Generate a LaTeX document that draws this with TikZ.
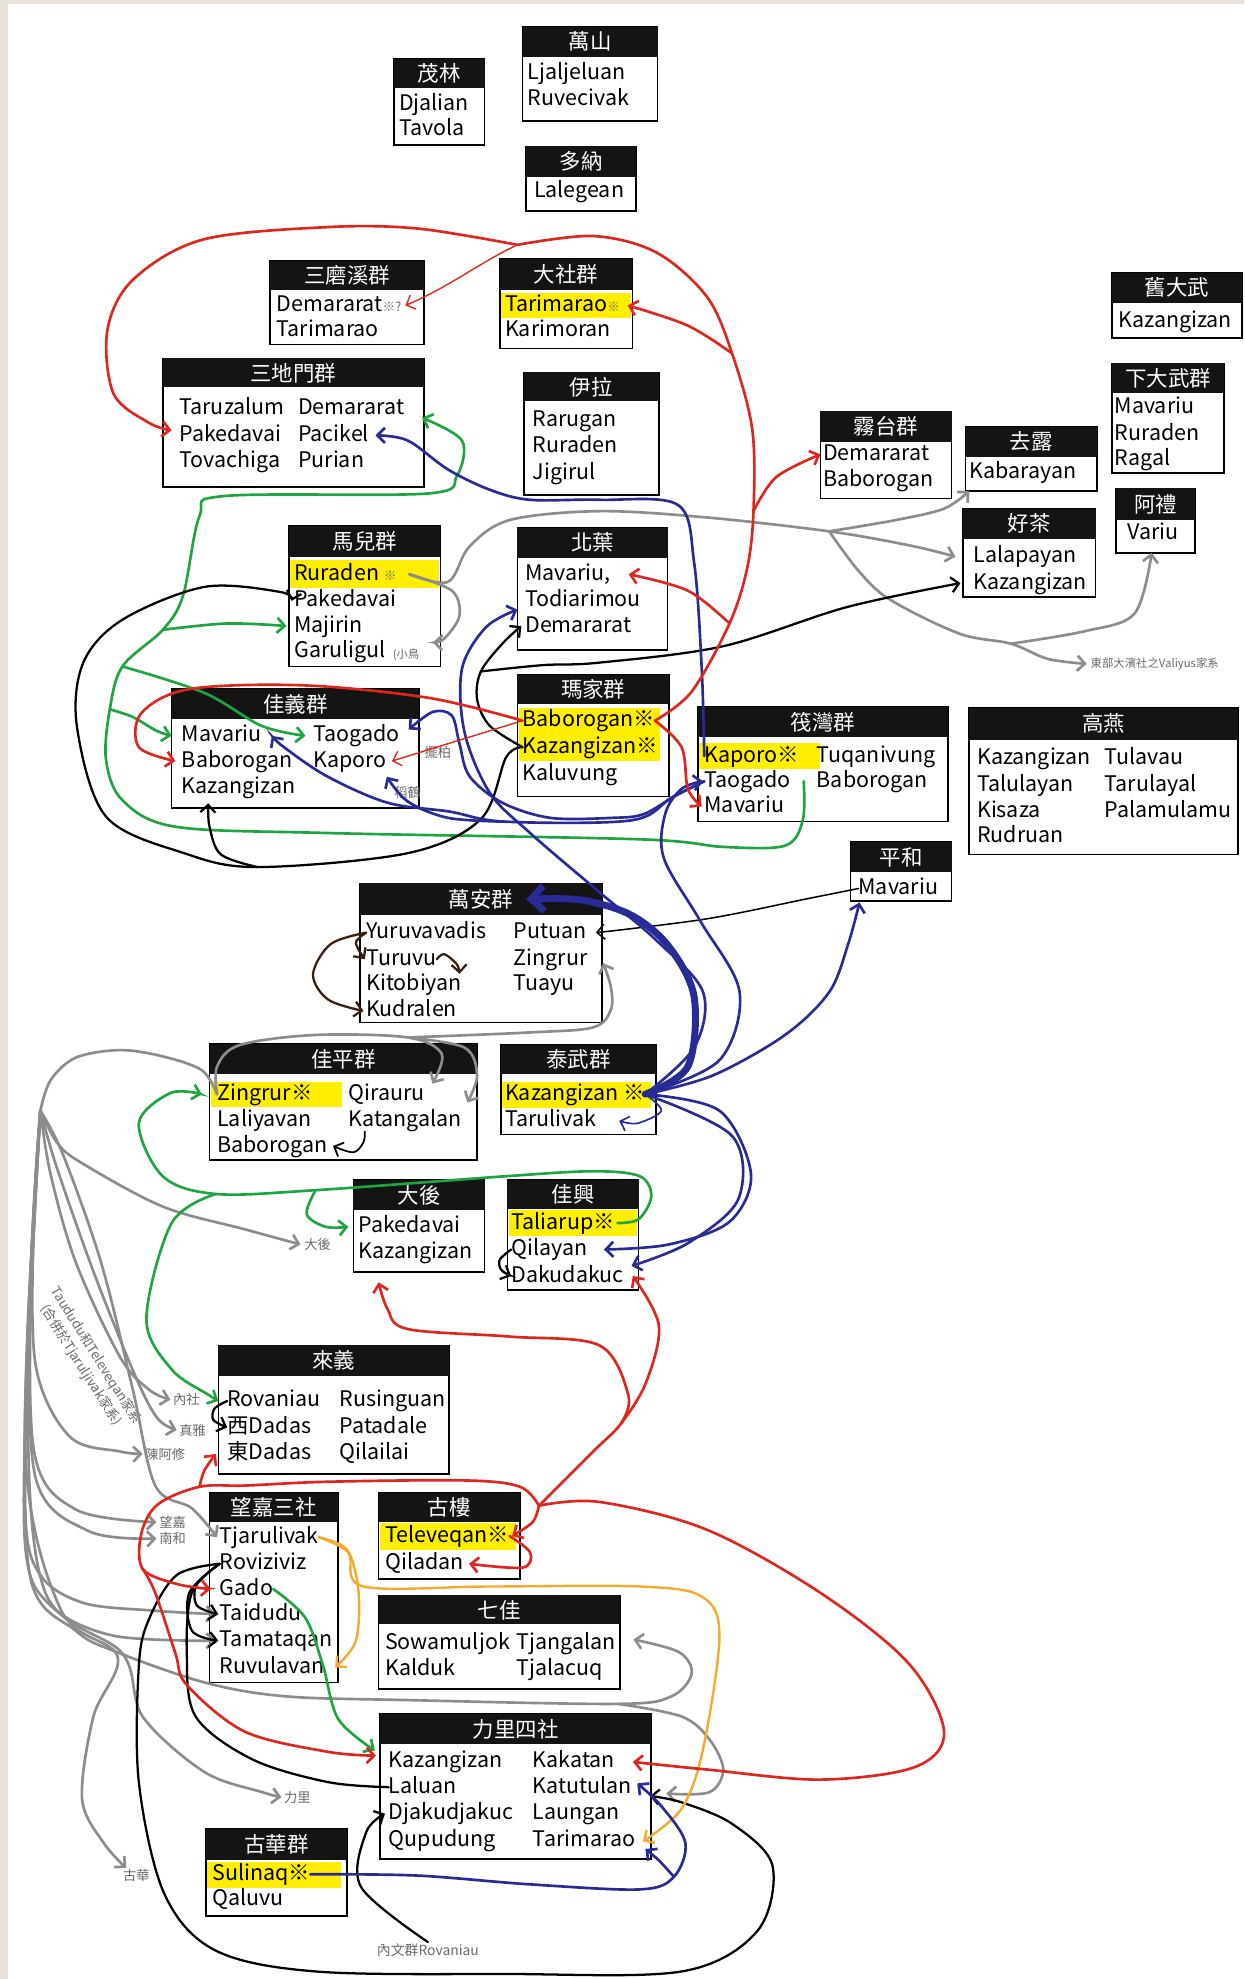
\documentclass[tikz,border=0pt]{standalone}
\usepackage{fontspec}
\setmainfont{Noto Sans CJK TC}
\usetikzlibrary{arrows.meta}

\definecolor{lnred}{RGB}{222,38,30}
\definecolor{lnblue}{RGB}{40,42,150}
\definecolor{lngreen}{RGB}{30,165,65}
\definecolor{lngrey}{RGB}{140,140,140}
\definecolor{lnorange}{RGB}{246,170,45}
\definecolor{lnbrown}{RGB}{55,30,15}
\definecolor{hlyellow}{RGB}{255,238,0}
\definecolor{paper}{RGB}{232,226,218}
\definecolor{labgrey}{RGB}{105,105,105}

% group box: name, left, top, right, header bottom, bottom, title
\newcommand{\tribe}[7]{%
  \node[grpbox, minimum width={#4-#2}, minimum height={#6-#3}] (#1) at (#2,#3) {};
  \node[grphead, minimum width={#4-#2}, minimum height={#5-#3}] (#1-h) at (#2,#3) {#7};
}
\newcommand{\smallmark}[1]{{\fontsize{10}{10}\selectfont\color{labgrey}#1}}

\begin{document}
\begin{tikzpicture}[x=1pt, y=-1pt,
    grpbox/.style={draw, fill=white, line width=1.3pt, anchor=north west, inner sep=0pt, outer sep=0pt},
    grphead/.style={fill=black!92, text=white, anchor=north west, inner sep=0pt, outer sep=0pt, font=\fontsize{17}{17}\selectfont},
    row/.style={anchor=west, inner sep=0pt, text height=13pt, text depth=3.5pt, font=\fontsize{17}{17}\selectfont},
    lab/.style={text=labgrey, inner sep=1pt, font=\fontsize{10.5}{12}\selectfont},
    hl/.style={fill=hlyellow},
    freehand/.style={smooth, tension=0.55},
    arr/.style={-{Straight Barb[length=6pt,width=12pt]}},
    lred/.style={draw=lnred, line width=2.1pt, line cap=round},
    lblue/.style={draw=lnblue, line width=2.1pt, line cap=round},
    lgreen/.style={draw=lngreen, line width=2.1pt, line cap=round},
    lblack/.style={draw=black, line width=1.8pt, line cap=round},
    lgrey/.style={draw=lngrey, line width=2.1pt, line cap=round},
    lorange/.style={draw=lnorange, line width=1.9pt, line cap=round},
    lbrown/.style={draw=lnbrown, line width=1.8pt, line cap=round}]

\useasboundingbox (0,0) rectangle (986,1568);
\fill[paper] (0,0) rectangle (986,1568);
\fill[white] (6,3) rectangle (986,1568);

% boxes
\tribe{ml}{312}{47}{384}{70}{115}{茂林}
\tribe{ws}{414}{21}{521}{45}{96}{萬山}
\tribe{dn}{417}{116}{504}{140}{167}{多納}
\tribe{smx}{214}{207}{336}{230}{273}{三磨溪群}
\tribe{ds}{396}{205}{501}{230}{276}{大社群}
\tribe{jdw}{881}{216}{984}{240}{268}{舊大武}
\tribe{sdm}{129}{284}{336}{307}{386}{三地門群}
\tribe{yl}{415}{295}{522}{318}{392}{伊拉}
\tribe{wt}{650}{326}{754}{350}{395}{霧台群}
\tribe{ql}{765}{338}{869}{362}{389}{去露}
\tribe{xdw}{881}{288}{970}{311}{375}{下大武群}
\tribe{al}{884}{387}{947}{412}{438}{阿禮}
\tribe{hc}{763}{403}{868}{427}{473}{好茶}
\tribe{me}{229}{417}{349}{441}{528}{馬兒群}
\tribe{by}{410}{418}{529}{442}{515}{北葉}
\tribe{jy}{136}{546}{332}{570}{640}{佳義群}
\tribe{mj}{410}{535}{530}{558}{631}{瑪家群}
\tribe{fw}{553}{560}{751}{584}{651}{筏灣群}
\tribe{gy}{768}{561}{981}{586}{677}{高燕}
\tribe{ph}{674}{667}{754}{691}{714}{平和}
\tribe{wa}{285}{700}{477}{725}{810}{萬安群}
\tribe{jp}{166}{827}{378}{851}{919}{佳平群}
\tribe{tw}{397}{828}{520}{851}{899}{泰武群}
\tribe{dh}{280}{935}{384}{959}{1008}{大後}
\tribe{jx}{402}{935}{506}{958}{1022}{佳興}
\tribe{ly}{173}{1066}{356}{1090}{1168}{來義}
\tribe{wj}{166}{1183}{268}{1206}{1333}{望嘉三社}
\tribe{gl}{300}{1183}{412}{1206}{1251}{古樓}
\tribe{qj}{300}{1264}{491}{1287}{1338}{七佳}
\tribe{ll}{301}{1358}{516}{1382}{1473}{力里四社}
\tribe{gh}{163}{1449}{275}{1474}{1518}{古華群}

% highlighted rows
\fill[hl] (397,232) rectangle (500,252);
\fill[hl] (230,444) rectangle (348,466);
\fill[hl] (411,561) rectangle (523,603);
\fill[hl] (554,589) rectangle (650,609);
\fill[hl] (167,857) rectangle (271,877);
\fill[hl] (398,857) rectangle (516,878);
\fill[hl] (403,959) rectangle (505,979);
\fill[hl] (301,1207) rectangle (409,1228);
\fill[hl] (164,1475) rectangle (270,1496);

% rows
\node[row] (ml-dja) at (316,83) {Djalian};
\node[row] (ml-tav) at (316,103) {Tavola};
\node[row] (ws-lja) at (418,58) {Ljaljeluan};
\node[row] (ws-ruv) at (418,79) {Ruvecivak};
\node[row] (dn-lal) at (423,152) {Lalegean};
\node[row] (smx-dem) at (219,242) {Demararat\smallmark{※?}};
\node[row] (smx-tar) at (219,262) {Tarimarao};
\node[row] (ds-tar) at (400,242) {Tarimarao\smallmark{※}};
\node[row] (ds-kar) at (400,262) {Karimoran};
\node[row] (jdw-kaz) at (886,255) {Kazangizan};
\node[row] (sdm-tar) at (142,324) {Taruzalum};
\node[row] (sdm-pak) at (142,345) {Pakedavai};
\node[row] (sdm-tov) at (142,366) {Tovachiga};
\node[row] (sdm-dem) at (236,324) {Demararat};
\node[row] (sdm-pac) at (236,345) {Pacikel};
\node[row] (sdm-pur) at (236,366) {Purian};
\node[row] (yl-rar) at (422,333) {Rarugan};
\node[row] (yl-rur) at (422,354) {Ruraden};
\node[row] (yl-jig) at (422,375) {Jigirul};
\node[row] (wt-dem) at (652,360) {Demararat};
\node[row] (wt-bab) at (652,381) {Baborogan};
\node[row] (ql-kab) at (768,374) {Kabarayan};
\node[row] (xdw-mav) at (883,323) {Mavariu};
\node[row] (xdw-rur) at (883,344) {Ruraden};
\node[row] (xdw-rag) at (883,364) {Ragal};
\node[row] (al-var) at (893,423) {Variu};
\node[row] (hc-lal) at (771,441) {Lalapayan};
\node[row] (hc-kaz) at (771,462) {Kazangizan};
\node[row] (me-rur) at (233,455) {Ruraden \smallmark{※}};
\node[row] (me-pak) at (233,476) {Pakedavai};
\node[row] (me-maj) at (233,496) {Majirin};
\node[row] (me-gar) at (233,516) {Garuligul};
\node[row] (by-mav) at (416,455) {Mavariu,};
\node[row] (by-tod) at (416,476) {Todiarimou};
\node[row] (by-dem) at (416,496) {Demararat};
\node[row] (jy-mav) at (144,583) {Mavariu};
\node[row] (jy-bab) at (144,603) {Baborogan};
\node[row] (jy-kaz) at (144,624) {Kazangizan};
\node[row] (jy-tao) at (248,583) {Taogado};
\node[row] (jy-kap) at (248,603) {Kaporo};
\node[row] (mj-bab) at (414,571) {Baborogan※};
\node[row] (mj-kaz) at (414,592) {Kazangizan※};
\node[row] (mj-kal) at (414,614) {Kaluvung};
\node[row] (fw-kap) at (558,599) {Kaporo※};
\node[row] (fw-tao) at (558,619) {Taogado};
\node[row] (fw-mav) at (558,639) {Mavariu};
\node[row] (fw-tuq) at (647,599) {Tuqanivung};
\node[row] (fw-bab) at (647,619) {Baborogan};
\node[row] (gy-kaz) at (774,601) {Kazangizan};
\node[row] (gy-tll) at (774,622) {Talulayan};
\node[row] (gy-kis) at (774,643) {Kisaza};
\node[row] (gy-rud) at (774,663) {Rudruan};
\node[row] (gy-tlv) at (875,601) {Tulavau};
\node[row] (gy-try) at (875,622) {Tarulayal};
\node[row] (gy-pal) at (875,643) {Palamulamu};
\node[row] (ph-mav) at (680,704) {Mavariu};
\node[row] (wa-yur) at (290,739) {Yuruvavadis};
\node[row] (wa-tur) at (290,760) {Turuvu};
\node[row] (wa-kit) at (290,780) {Kitobiyan};
\node[row] (wa-kud) at (290,801) {Kudralen};
\node[row] (wa-put) at (407,739) {Putuan};
\node[row] (wa-zin) at (407,760) {Zingrur};
\node[row] (wa-tua) at (407,780) {Tuayu};
\node[row] (jp-zin) at (172,867) {Zingrur※};
\node[row] (jp-lal) at (172,888) {Laliyavan};
\node[row] (jp-bab) at (172,908) {Baborogan};
\node[row] (jp-qir) at (276,867) {Qirauru};
\node[row] (jp-kat) at (276,888) {Katangalan};
\node[row] (tw-kaz) at (400,867) {Kazangizan ※};
\node[row] (tw-tar) at (400,888) {Tarulivak};
\node[row] (dh-pak) at (284,972) {Pakedavai};
\node[row] (dh-kaz) at (284,992) {Kazangizan};
\node[row] (jx-tal) at (405,969) {Taliarup※};
\node[row] (jx-qil) at (405,990) {Qilayan};
\node[row] (jx-dak) at (405,1011) {Dakudakuc};
\node[row] (ly-rov) at (180,1110) {Rovaniau};
\node[row] (ly-xd) at (180,1131) {西Dadas};
\node[row] (ly-dd) at (180,1152) {東Dadas};
\node[row] (ly-rus) at (269,1110) {Rusinguan};
\node[row] (ly-pat) at (269,1131) {Patadale};
\node[row] (ly-qil) at (269,1152) {Qilailai};
\node[row] (wj-tja) at (174,1218) {Tjarulivak};
\node[row] (wj-rov) at (174,1239) {Roviziviz};
\node[row] (wj-gad) at (174,1259) {Gado};
\node[row] (wj-tai) at (174,1279) {Taidudu};
\node[row] (wj-tam) at (174,1300) {Tamataqan};
\node[row] (wj-ruv) at (174,1321) {Ruvulavan};
\node[row] (gl-tel) at (305,1217) {Televeqan※};
\node[row] (gl-qil) at (305,1239) {Qiladan};
\node[row] (qj-sow) at (305,1302) {Sowamuljok};
\node[row] (qj-kal) at (305,1323) {Kalduk};
\node[row] (qj-tja) at (409,1302) {Tjangalan};
\node[row] (qj-tjl) at (409,1323) {Tjalacuq};
\node[row] (ll-kaz) at (308,1396) {Kazangizan};
\node[row] (ll-lal) at (308,1416) {Laluan};
\node[row] (ll-dja) at (308,1437) {Djakudjakuc};
\node[row] (ll-qup) at (308,1458) {Qupudung};
\node[row] (ll-kak) at (422,1396) {Kakatan};
\node[row] (ll-kat) at (422,1416) {Katutulan};
\node[row] (ll-lau) at (422,1437) {Laungan};
\node[row] (ll-tar) at (422,1458) {Tarimarao};
\node[row] (gh-sul) at (168,1485) {Sulinaq※};
\node[row] (gh-qal) at (168,1505) {Qaluvu};

% small labels
\node[lab, anchor=west, font=\fontsize{9}{10}\selectfont] (lb-valiyus) at (863,526) {東部大濱社之Valiyus家系};
\node[lab, anchor=west, font=\fontsize{9}{10}\selectfont] (lb-bird) at (310,519) {(小鳥};
\node[lab] (lb-baibai) at (347,596) {擺柏};
\node[lab] (lb-daohe) at (323,628) {稻鶴};
\node[lab, anchor=west] (lb-dahou) at (240,986) {大後};
\node[lab, rotate=-58, align=center, font=\fontsize{10.5}{14}\selectfont] (lb-taududu) at (70,1078) {Taududu和Televeqan家系\\(合併於Tjaruljivak家系)};
\node[lab, anchor=west] (lb-neishe) at (136,1109) {內社};
\node[lab, anchor=west] (lb-zhenya) at (141,1133) {真雅};
\node[lab, anchor=west] (lb-chen) at (114,1152) {陳阿修};
\node[lab, anchor=west] (lb-wangjia) at (125,1206) {望嘉};
\node[lab, anchor=west] (lb-nanhe) at (125,1219) {南和};
\node[lab, anchor=west] (lb-lili) at (224,1424) {力里};
\node[lab] (lb-guhua) at (108,1486) {古華};
\node[lab, font=\fontsize{11}{12}\selectfont] (lb-neiwen) at (339,1545) {內文群Rovaniau};

% branch points
\coordinate (rtop) at (410,194);
\coordinate (rj1) at (580,280);
\coordinate (rj2) at (597,405);
\coordinate (rj3) at (578,494);
\coordinate (rj) at (427,1193);
\coordinate (rmid) at (492,1128);
\coordinate (rleft) at (158,1178);
\coordinate (rdown) at (113,1243);
\coordinate (kjoin) at (381,532);
\coordinate (kjy) at (204,687);
\coordinate (gj2) at (657,421);
\coordinate (gj3) at (801,510);
\coordinate (tr) at (32,880);
\coordinate (gtop) at (323,822);
\coordinate (gt1) at (97,528);
\coordinate (gt2) at (87,562);
\coordinate (gt3) at (129,499);
\coordinate (gjp1) at (250,943);
\coordinate (gjp2) at (171,946);
\coordinate (qj1) at (490,1350);
\coordinate (bsul) at (534,1487);
\coordinate (bjy) at (400,651);

% grey
\draw[lgrey, arr] plot[freehand] coordinates {([xshift=10pt]me-rur.east) (355,461) (372,433) (404,412) (475,405) (560,410) (gj2) (720,432) ([xshift=-14pt]hc-lal.west)};
\draw[lgrey, arr] plot[freehand] coordinates {(gj2) (710,412) (748,403) ([xshift=3pt]ql.south west)};
\draw[lgrey, arr] plot[freehand] coordinates {(gj2) (680,452) (705,475) (760,502) (gj3) (830,522) ([xshift=-2pt]lb-valiyus.west)};
\draw[lgrey, arr] plot[freehand] coordinates {(gj3) (860,500) (899,486) ([xshift=-3pt]al.south)};
\draw[lgrey, arr] plot[freehand] coordinates {([xshift=10pt]me-rur.east) (358,468) (364,488) (352,506) ([xshift=-6pt,yshift=19pt]me.south east)};
\draw[lgrey] plot[freehand] coordinates {(jp-zin.west) (160,848) (129,837) (95,832) (60,838) (40,856) (tr)};
\draw[lgrey, arr] plot[freehand] coordinates {(jp-zin.west) (172,845) (190,828) (250,820) (gtop) (350,835) ([xshift=6pt]jp-qir.north east)};
\draw[lgrey, arr] plot[freehand] coordinates {(gtop) (368,830) (378,852) ([xshift=4pt,yshift=6pt]jp-kat.north east)};
\draw[lgrey, arr] plot[freehand] coordinates {(gtop) (420,818) (470,814) (484,800) (484,782) ([xshift=12pt,yshift=-3pt]wa-zin.east)};
\draw[lgrey, arr] plot[freehand] coordinates {(tr) (45,905) (64,921) (129,956) (194,974) ([xshift=-2pt]lb-dahou.west)};
\draw[lgrey, arr] plot[freehand] coordinates {(tr) (40,930) (60,1000) (95,1075) (118,1101) ([xshift=-1pt]lb-neishe.west)};
\draw[lgrey, arr] plot[freehand] coordinates {(tr) (45,925) (75,1010) (108,1092) (125,1124) ([xshift=-1pt]lb-zhenya.west)};
\draw[lgrey, arr] plot[freehand] coordinates {(tr) (50,915) (80,1000) (105,1100) (123,1177) (152,1195) ([xshift=-2pt]wj-tja.west)};
\draw[lgrey, arr] plot[freehand] coordinates {(tr) (27,960) (28,1080) (55,1138) (95,1150) ([xshift=-1pt]lb-chen.west)};
\draw[lgrey, arr] plot[freehand] coordinates {(tr) (25,1000) (27,1150) (60,1196) ([xshift=-1pt]lb-wangjia.west)};
\draw[lgrey, arr] plot[freehand] coordinates {(tr) (24,1020) (28,1170) (70,1213) ([xshift=-1pt]lb-nanhe.west)};
\draw[lgrey, arr] plot[freehand] coordinates {(tr) (22,1050) (20,1200) (32,1248) (66,1270) (120,1276) ([xshift=-3pt]wj-tai.west)};
\draw[lgrey, arr] plot[freehand] coordinates {(tr) (22,1070) (20,1225) (40,1272) (90,1296) ([xshift=-3pt]wj-tam.west)};
\draw[lgrey, arr] plot[freehand] coordinates {(tr) (21,1100) (24,1250) (60,1292) (90,1308) (162,1333) (226,1344) (323,1347) (qj1) (532,1344) (548,1326) (538,1309) ([xshift=14pt,yshift=3pt]qj-tja.east)};
\draw[lgrey, arr] plot[freehand] coordinates {(qj1) (540,1360) (562,1378) (573,1402) (562,1420) ([xshift=27pt,yshift=-5pt]ll-kat.east)};
\draw[lgrey, arr] plot[freehand] coordinates {(tr) (22,1120) (36,1262) (97,1310) (113,1360) (162,1404) (208,1420) ([xshift=-1pt]lb-lili.west)};
\draw[lgrey, arr] plot[freehand] coordinates {(tr) (20,1150) (48,1275) (93,1312) (74,1360) (65,1425) (82,1460) ([xshift=-8pt]lb-guhua.north)};

% green
\draw[lgreen, arr] plot[freehand] coordinates {([xshift=10pt]fw-tao.east) (636,650) (622,670) (573,671) (507,665) (259,660) (139,655) (97,634) (84,602) (gt2) (gt1) (gt3) (145,472) (158,409) (178,393) (339,391) (362,377) (366,349) ([xshift=14pt,yshift=-7pt]sdm-dem.east)};
\draw[lgreen, arr] plot[freehand] coordinates {(gt3) (180,494) ([xshift=-6pt]me-maj.west)};
\draw[lgreen, arr] plot[freehand] coordinates {(gt2) (105,568) (124,579) ([xshift=-8pt]jy-mav.west)};
\draw[lgreen, arr] plot[freehand] coordinates {(gt1) (162,549) (207,575) ([xshift=-6pt]jy-tao.west)};
\draw[lgreen, arr] plot[freehand] coordinates {([xshift=2pt]jx-tal.east) (506,966) (516,948) (507,932) (470,928) (400,932) (gjp1) (gjp2) (129,932) (110,890) (135,866) ([xshift=-12pt]jp-zin.west)};
\draw[lgreen, arr] plot[freehand] coordinates {(gjp1) (243,962) (258,972) ([xshift=-8pt]dh-pak.west)};
\draw[lgreen, arr] plot[freehand] coordinates {(gjp2) (136,969) (116,1045) (136,1085) (165,1105) ([xshift=-7pt]ly-rov.west)};
\draw[lgreen, arr] plot[freehand] coordinates {(wj-gad.east) (242,1282) (256,1320) (268,1362) ([xshift=-11pt,yshift=9pt]ll-kaz.west)};

% black
\draw[lblack, arr] plot[freehand] coordinates {(mj-kaz.west) (401,600) (381,649) (323,676) (kjy) (146,676) (84,647) (61,576) (66,525) (97,491) (162,465) (222,469) ([xshift=-2pt]me-pak.west)};
\draw[lblack, arr] plot[freehand] coordinates {(kjy) (175,677) (166,655) ([xshift=21pt,yshift=-4pt]jy-kaz.south west)};
\draw[lblack, arr] plot[freehand] coordinates {(mj-kaz.west) (388,575) (378,554) (kjoin) (398,510) ([xshift=-3pt]by-dem.west)};
\draw[lblack, arr] plot[freehand] coordinates {(kjoin) (430,527) (475,525) (573,512) (671,481) ([xshift=-10pt]hc-kaz.west)};
\draw[lblack, line width=1.2pt, arr] plot[freehand] coordinates {(ph-mav.west) (640,712) (560,728) ([xshift=7pt]wa-put.east)};
\draw[lblack, line width=1.4pt, arr] plot[freehand] coordinates {([xshift=13pt]jp-kat.south west) (288,905) (280,913) ([xshift=4pt]jp-bab.east)};
\draw[lblack, arr] plot[freehand] coordinates {(jx-qil.west) (396,998) (397,1006) (jx-dak.west)};
\draw[lblack, arr] plot[freehand] coordinates {(ly-rov.west) (170,1116) (169,1125) (ly-xd.west)};
\draw[lblack, arr] plot[freehand] coordinates {(wj-rov.west) (140,1248) (118,1283) (110,1320) (110,1412) (130,1500) (170,1545) (250,1562) (400,1564) (540,1562) (600,1530) (612,1478) (580,1445) (540,1428) ([xshift=14pt,yshift=-7pt]ll-kat.east)};
\draw[lblack] plot[freehand] coordinates {(wj-rov.west) (152,1262) (148,1310) (155,1360) (200,1394) (260,1412) (ll-lal.west)};
\draw[lblack, arr] plot[freehand] coordinates {(wj-rov.west) (156,1255) (156,1272) ([xshift=-1pt]wj-tai.west)};
\draw[lblack, arr] plot[freehand] coordinates {(wj-rov.west) (150,1262) (152,1292) ([xshift=-1pt]wj-tam.west)};
\draw[lblack, arr] plot[freehand] coordinates {(lb-neiwen.north) (286,1495) (290,1452) ([xshift=-3pt]ll-dja.west)};

% brown
\draw[lbrown, arr] plot[freehand] coordinates {(wa-yur.west) (282,747) ([xshift=-1pt]wa-tur.west)};
\draw[lbrown, arr] plot[freehand] coordinates {(wa-yur.west) (262,748) (248,772) (260,792) ([xshift=-2pt]wa-kud.west)};
\draw[lbrown, arr] plot[freehand] coordinates {(wa-tur.east) (352,756) (362,764) ([xshift=-2pt]wa-kit.north east)};

% orange
\draw[lorange, arr] plot[freehand] coordinates {(wj-tja.east) (275,1228) (284,1260) (282,1300) ([xshift=8pt]wj-ruv.east)};
\draw[lorange, arr] plot[freehand] coordinates {(wj-tja.east) (276,1230) (288,1257) (388,1257) (507,1257) (556,1265) (570,1296) (557,1386) (540,1433) ([xshift=6pt,yshift=-1pt]ll-tar.east)};

% blue
\draw[lblue, arr] plot[freehand] coordinates {(fw-kap.west) (556,530) (550,446) (537,400) (475,396) (420,396) (388,388) (355,372) (323,349) ([xshift=5pt]sdm-pac.east)};
\draw[lblue, arr] plot[freehand] coordinates {(tw-kaz.east) (550,830) (557,786) (520,745) (475,707) (420,660) (388,628) (368,580) (366,530) (385,497) ([xshift=-6pt,yshift=13pt]by-dem.west)};
\draw[lblue, line width=5.5pt, -{Straight Barb[length=10pt,width=20pt]}] plot[freehand] coordinates {(tw-kaz.east) (545,845) (550,790) (530,750) (500,725) (460,713) ([xshift=-60pt]wa-h.east)};
\draw[lblue, arr] plot[freehand] coordinates {(tw-kaz.east) (570,840) (586,786) (555,730) (526,680) (527,645) (540,625) ([xshift=-1pt]fw-tao.west)};
\draw[lblue, arr] plot[freehand] coordinates {(tw-kaz.east) (565,852) (622,820) (657,786) (672,748) ([xshift=7pt,yshift=-1pt]ph.south west)};
\draw[lblue, arr] plot[freehand] coordinates {(tw-kaz.east) (570,880) (595,930) (578,968) (530,986) ([xshift=13pt]jx-qil.east)};
\draw[lblue, arr] plot[freehand] coordinates {(tw-kaz.east) (580,900) (585,950) (545,985) ([xshift=6pt,yshift=8pt]jx-dak.east)};
\draw[lblue, line width=1.3pt, arr] plot[freehand] coordinates {(tw-kaz.east) (524,880) (505,890) ([xshift=18pt]tw-tar.east)};
\draw[lblue, arr] plot[freehand] coordinates {(fw-tao.west) (532,632) (500,650) (bjy) (356,643) (307,636) (259,615) (225,592) ([xshift=8pt]jy-mav.east)};
\draw[lblue, arr] plot[freehand] coordinates {(bjy) (355,648) (323,635) ([yshift=-4pt]jy-kap.south east)};
\draw[lblue, arr] plot[freehand] coordinates {(fw-tao.west) (536,630) (510,645) (485,648) (436,648) (398,636) (372,615) (364,589) (358,567) (343,564) ([xshift=7pt,yshift=5pt]jy-tao.east)};
\draw[lblue, arr] plot[freehand] coordinates {(gh-sul.east) (330,1486) (420,1493) (507,1497) (bsul) (543,1460) (524,1431) ([xshift=4pt,yshift=3pt]ll-kat.east)};
\draw[lblue, arr] plot[freehand] coordinates {(bsul) (522,1474) ([xshift=8pt,yshift=-7pt]ll-tar.east)};

% red
\draw[lred] plot[freehand] coordinates {(mj-bab.east) (548,548) (rj3) (592,450) (rj2) (596,340) (rj1) (560,235) (520,200) (470,187) (rtop)};
\draw[lred, line width=1.1pt, arr] (rtop) .. controls (380,208) and (355,228) .. ([xshift=3pt]smx-dem.east);
\draw[lred, arr] plot[freehand] coordinates {(rtop) (330,181) (258,180) (160,190) (105,222) (85,262) (90,312) (118,335) ([xshift=-6pt,yshift=4pt]sdm-pak.west)};
\draw[lred, arr] plot[freehand] coordinates {(rj1) (545,258) ([xshift=6pt]ds-tar.east)};
\draw[lred, arr] plot[freehand] coordinates {(rj2) (615,378) ([xshift=-2pt]wt-dem.west)};
\draw[lred, arr] plot[freehand] coordinates {(rj3) (545,468) ([xshift=14pt]by-mav.east)};
\draw[lred, arr] plot[freehand] coordinates {(mj-bab.east) (540,592) (545,625) ([xshift=-2pt]fw-mav.west)};
\draw[lred, line width=1.1pt, arr] (mj-bab.west) -- ([xshift=4pt]jy-kap.east);
\draw[lred, arr] plot[freehand] coordinates {(mj-bab.west) (340,553) (240,543) (150,546) (112,565) (110,592) ([xshift=-5pt]jy-bab.west)};
\draw[lred, arr] plot[freehand] coordinates {(rj) (422,1206) ([xshift=2pt]gl-tel.east)};
\draw[lred, arr] plot[freehand] coordinates {(gl-tel.east) (420,1230) (414,1242) ([xshift=4pt]gl-qil.east)};
\draw[lred, arr] plot[freehand] coordinates {(rj) (470,1150) (rmid) (512,1095) (522,1050) ([xshift=7pt]jx-dak.east)};
\draw[lred, arr] plot[freehand] coordinates {(rmid) (498,1106) (475,1066) (404,1059) (323,1053) (307,1037) ([xshift=-32pt,yshift=-8pt]dh.south)};
\draw[lred, arr] plot[freehand] coordinates {(rj) (412,1178) (370,1173) (260,1174) (195,1177) (rleft) (125,1192) (112,1215) (rdown) (140,1255) ([xshift=-7pt]wj-gad.west)};
\draw[lred, arr] plot[freehand] coordinates {(rleft) (162,1165) ([xshift=-9pt]ly-dd.west)};
\draw[lred, arr] plot[freehand] coordinates {(rdown) (123,1262) (139,1310) (148,1335) (194,1372) (260,1388) ([xshift=-10pt,yshift=5pt]ll-kaz.west)};
\draw[lred, arr] plot[freehand] coordinates {(rj) (475,1190) (560,1212) (650,1262) (720,1318) (748,1372) (725,1400) (650,1410) (560,1402) ([xshift=14pt]ll-kak.east)};
\end{tikzpicture}
\end{document}
